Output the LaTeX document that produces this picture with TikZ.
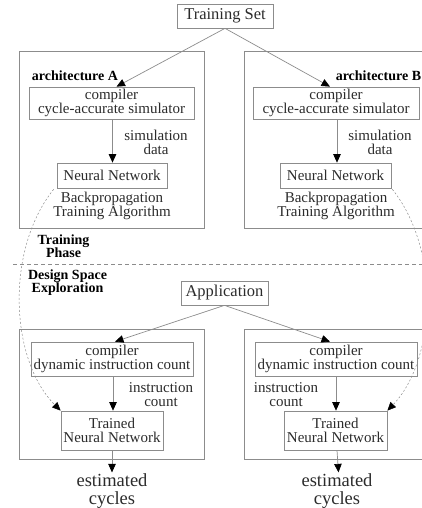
\documentclass[tikz,border=0pt]{standalone}
\usepackage{fontspec}
\setmainfont{Liberation Serif}
\usetikzlibrary{positioning,arrows.meta}
\definecolor{Frame}{HTML}{8C8C8C}
\definecolor{Ink}{HTML}{2B2B2B}

\begin{document}
\begin{tikzpicture}[x=1pt,y=-1pt,every node/.style={text=Ink,align=center}]
\tikzstyle{frame}=[draw=Frame,line width=.7pt,inner sep=0pt]
\tikzstyle{box}=[frame,font=\fontsize{15}{14}\selectfont]
\tikzstyle{big}=[frame,font=\fontsize{16.5}{16}\selectfont]
\tikzstyle{note}=[inner sep=0pt,font=\fontsize{15}{13.5}\selectfont]
\tikzstyle{result}=[inner sep=1pt,font=\fontsize{18.5}{18}\selectfont]
\tikzstyle{phase}=[inner sep=0pt,text=black,font=\fontsize{14}{13.5}\selectfont\bfseries]
\tikzstyle{flow}=[draw=Frame,line width=.7pt,-{Triangle[length=8.5pt,width=7.5pt,color=black]}]
\tikzstyle{reuse}=[flow,line width=.5pt,dash pattern=on 2pt off 2pt]
\path[use as bounding box] (0,0) rectangle (422,508);
\clip (0,0) rectangle (422,508);

% training phase
\node[big,minimum width=96pt,minimum height=24pt] (tset) at (225,16) {Training Set};
\node[frame,minimum width=185pt,minimum height=177pt] (archA) at (111.5,139.5) {};
\node[frame,minimum width=180pt,minimum height=177pt] (archB) at (334,139.5) {};
\node[phase,below right=20pt and 13pt of archA.north west] (nameA) {architecture A};
\node[phase,below left=20pt and 3pt of archB.north east] (nameB) {architecture B};

\node[box,minimum width=165pt,minimum height=32pt] (simA) at (111.5,103) {compiler\\cycle-accurate simulator};
\node[box,minimum width=166pt,minimum height=32pt] (simB) at (336,103) {compiler\\cycle-accurate simulator};
\node[box,minimum width=110pt,minimum height=25pt] (nnA) at (112,175.5) {Neural Network};
\node[box,minimum width=111pt,minimum height=25pt] (nnB) at (335.5,175.5) {Neural Network};
\node[note] (bpA) at (112,206) {Backpropagation\\Training Algorithm};
\node[note] (bpB) at (336,206) {Backpropagation\\Training Algorithm};
\node[note] (sdA) at (156,142.5) {simulation\\data};
\node[note] (sdB) at (380,142.5) {simulation\\data};

\node[phase] (train) at (63.5,246) {Training\\Phase};
\draw[draw=Frame,line width=.6pt,dash pattern=on 4pt off 3pt] (13,264) -- (422,264);
\node[phase] (dse) at (67.5,282.5) {Design Space\\Exploration};

% design space exploration
\node[big,minimum width=87pt,minimum height=24pt] (app) at (224.5,293) {Application};
\node[frame,minimum width=185pt,minimum height=130pt] (lowA) at (111.5,394) {};
\node[frame,minimum width=180pt,minimum height=130pt] (lowB) at (334,394) {};
\node[box,minimum width=162pt,minimum height=34pt] (dcA) at (112,359) {compiler\\dynamic instruction count};
\node[box,minimum width=162pt,minimum height=34pt] (dcB) at (336,359) {compiler\\dynamic instruction count};
\node[note] (icA) at (161,394.5) {instruction\\count};
\node[note] (icB) at (286,394.5) {instruction\\count};
\node[box,minimum width=102pt,minimum height=39pt] (tnA) at (112,430.5) {Trained\\Neural Network};
\node[box,minimum width=103pt,minimum height=39pt] (tnB) at (335.5,430.5) {Trained\\Neural Network};
\node[result] (ecA) at (112,491) {estimated\\cycles};
\node[result] (ecB) at (337,491) {estimated\\cycles};

% connectors
\draw[flow] (tset.south) -- ([xshift=5pt]simA.north);
\draw[flow] (tset.south) -- ([xshift=-6pt]simB.north);
\draw[flow] ([xshift=1pt]simA.south) -- ([xshift=1pt]simA.south |- nnA.north);
\draw[flow] ([xshift=1pt]simB.south) -- ([xshift=1pt]simB.south |- nnB.north);
\draw[flow] (app.south) -- ([xshift=3pt]dcA.north);
\draw[flow] (app.south) -- ([xshift=-6pt]dcB.north);
\draw[flow] ([xshift=1pt]dcA.south) -- ([xshift=1pt]dcA.south |- tnA.north);
\draw[flow] (dcB.south) -- (dcB.south |- tnB.north);
\draw[flow] (tnA) -- (ecA);
\draw[flow] ([xshift=1.5pt]tnB.south) -- ([xshift=1.5pt]ecB.north);

% trained networks carried over
\draw[reuse] ([xshift=-3pt,yshift=-1pt]nnA.south west) .. controls (5,250) and (10,360) .. (tnA.north west);
\draw[reuse] ([xshift=1pt,yshift=-1pt]nnB.south east) .. controls (441,250) and (436,360) .. (tnB.north east);
\end{tikzpicture}
\end{document}
